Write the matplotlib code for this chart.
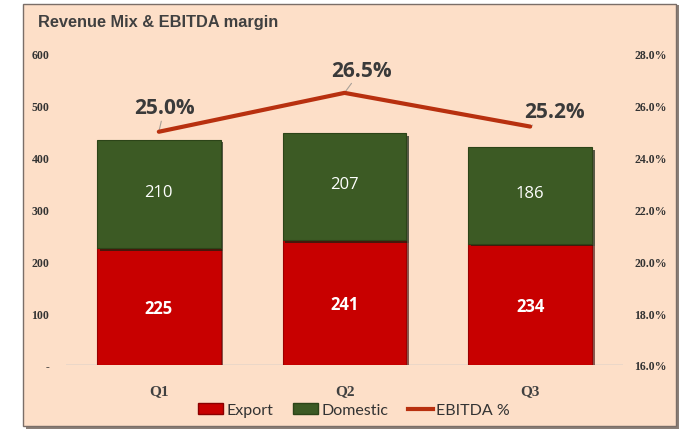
import matplotlib
matplotlib.use("Agg")
import matplotlib.pyplot as plt
from matplotlib.patches import Rectangle, Patch
from matplotlib.lines import Line2D
import matplotlib.patheffects as pe
import numpy as np

categories = ["Q1", "Q2", "Q3"]
export = [225, 241, 234]
domestic = [210, 207, 186]
ebitda = [25.0, 26.5, 25.2]
left_ticks = [0, 100, 200, 300, 400, 500, 600]
left_labels = ["-", "100", "200", "300", "400", "500", "600"]
right_ticks = [16, 18, 20, 22, 24, 26, 28]

W, H = 679, 431
fig = plt.figure(figsize=(W / 100, H / 100), dpi=100)
fig.patch.set_facecolor("white")

peach = "#FDDFC8"
# chart frame with shadow
fig.patches.append(Rectangle((26 / W, 1 - 430 / H), 653 / W, 424 / H, transform=fig.transFigure,
                             facecolor="#8a7f78", edgecolor="none", zorder=-3))
fig.patches.append(Rectangle((23 / W, 1 - 427 / H), 653 / W, 422 / H, transform=fig.transFigure,
                             facecolor=peach, edgecolor="#7a6e68", linewidth=1.0, zorder=-2))

ax = fig.add_axes([66 / W, 65 / H, 557 / W, 311 / H])
ax.set_facecolor("none")
x = np.arange(len(categories))
bw = 124 / 186

shadow = [pe.SimplePatchShadow(offset=(2, -2), shadow_rgbFace="#3a0000", alpha=0.6), pe.Normal()]
shadow_g = [pe.SimplePatchShadow(offset=(2, -2), shadow_rgbFace="#142010", alpha=0.7), pe.Normal()]
b1 = ax.bar(x, export, width=bw, color="#C80000", edgecolor="#9a0000", linewidth=0.8, zorder=3)
b2 = ax.bar(x, domestic, bottom=export, width=bw, color="#3C5A24", edgecolor="#2c4418",
            linewidth=0.8, zorder=3)
for r in b1:
    r.set_path_effects(shadow)
for r in b2:
    r.set_path_effects(shadow_g)

for i in range(len(categories)):
    ax.text(x[i], export[i] / 2 - 3, str(export[i]), ha="center", va="center", color="white",
            fontsize=12, fontweight="bold", family="Open Sans", zorder=5)
    ax.text(x[i], export[i] + domestic[i] / 2 + 4, str(domestic[i]), ha="center", va="center",
            color="white", fontsize=12, family="Open Sans", zorder=5)

ax.set_xlim(-0.5, 2.5)
ax.set_ylim(0, 600)
ax.set_yticks(left_ticks)
ax.set_yticklabels(left_labels, fontsize=8.5, fontweight="bold", family="Liberation Serif", color="#333333")
ax.set_xticks(x)
ax.set_xticklabels(categories, fontsize=11, fontweight="bold", family="Liberation Serif", color="#404040")
ax.tick_params(axis="y", length=0, pad=12)
ax.tick_params(axis="x", length=0, pad=14)
for s in ax.spines.values():
    s.set_visible(False)
ax.axhline(0, color="#e8d6c8", linewidth=1.2, zorder=2)

ax2 = ax.twinx()
ax2.set_ylim(16, 28)
ax2.set_yticks(right_ticks)
ax2.set_yticklabels([f"{v:.1f}%" for v in right_ticks], fontsize=8.5, family="Liberation Serif",
                    fontweight="bold", color="#333333")
ax2.tick_params(axis="y", length=0, pad=8)
for s in ax2.spines.values():
    s.set_visible(False)
ax2.plot(x, ebitda, color="#B8300F", linewidth=3, zorder=4, solid_capstyle="round")

label_offsets = [(0.03, 0.92), (0.09, 0.88), (0.13, 0.57)]
for i, v in enumerate(ebitda):
    dx, dy = label_offsets[i]
    ax2.annotate(f"{v:.1f}%", xy=(x[i], v), xytext=(x[i] + dx, v + dy), ha="center", va="center",
                 fontsize=15, fontweight="bold", family="Open Sans", color="#3a3a3a",
                 arrowprops=dict(arrowstyle="-", color="#a8a098", linewidth=0.8, shrinkA=0, shrinkB=1))

fig.text(38 / W, 1 - 22 / H, "Revenue Mix & EBITDA margin", fontsize=11.8, fontweight="bold",
         family="Liberation Sans", color="#404040", va="center", ha="left")

handles = [Patch(facecolor="#C80000", edgecolor="#8a0000"),
           Patch(facecolor="#3C5A24", edgecolor="#2c4418"),
           Line2D([0], [0], color="#B8300F", linewidth=3)]
leg = fig.legend(handles, ["Export", "Domestic", "EBITDA %"], loc="center", ncol=3,
                 bbox_to_anchor=(354 / W, 1 - 411 / H), frameon=False,
                 handlelength=1.6, handletextpad=0.2, columnspacing=1.2,
                 prop={"family": "Lato", "size": 11.5})
for t in leg.get_texts():
    t.set_color("#333333")

fig.savefig("out.png", dpi=100, facecolor=fig.get_facecolor())
